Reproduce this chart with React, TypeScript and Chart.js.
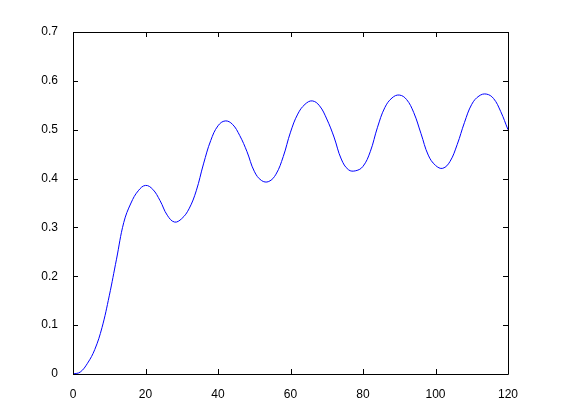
import React, { useEffect, useRef } from "react";
import { Chart, registerables } from "chart.js";

Chart.register(...registerables);

const xValues = [
  0, 2, 4, 6, 8, 10, 12, 14, 16, 18, 20, 22, 24, 26, 28, 30, 32, 34, 36, 38,
  40, 42, 44, 46, 48, 50, 52, 54, 56, 58, 60, 62, 64, 66, 68, 70, 72, 74, 76, 78,
  80, 82, 84, 86, 88, 90, 92, 94, 96, 98, 100, 102, 104, 106, 108, 110, 112, 114, 116, 118, 120,
];

const yValues = [
  0, 0.004, 0.022, 0.05, 0.095, 0.16, 0.235, 0.31, 0.35, 0.375,
  0.386, 0.378, 0.355, 0.325, 0.311, 0.318, 0.338, 0.375, 0.43, 0.478,
  0.508, 0.518, 0.511, 0.488, 0.455, 0.415, 0.396, 0.394, 0.409, 0.445,
  0.495, 0.532, 0.552, 0.559, 0.549, 0.522, 0.485, 0.44, 0.418, 0.416,
  0.425, 0.455, 0.505, 0.545, 0.565, 0.571, 0.562, 0.535, 0.492, 0.448,
  0.427, 0.421, 0.435, 0.47, 0.515, 0.552, 0.569, 0.573, 0.564, 0.537, 0.5,
];

const xTickLabels = ["0", "20", "40", "60", "80", "100", "120"];
const yTickLabels = ["0", "0.1", "0.2", "0.3", "0.4", "0.5", "0.6", "0.7"];

const boxPlugin = {
  id: "matlabBox",
  afterDraw(chart: any) {
    const { ctx, chartArea } = chart;
    const { left, right, top, bottom } = chartArea;
    const xs = chart.scales.x;
    const ys = chart.scales.y;
    const len = 5;
    ctx.save();
    ctx.strokeStyle = "#000";
    ctx.lineWidth = 1;
    ctx.beginPath();
    ctx.rect(Math.round(left) + 0.5, Math.round(top) + 0.5, Math.round(right - left), Math.round(bottom - top));
    xs.ticks.forEach((t: any) => {
      const px = Math.round(xs.getPixelForValue(t.value)) + 0.5;
      ctx.moveTo(px, bottom);
      ctx.lineTo(px, bottom - len);
      ctx.moveTo(px, top);
      ctx.lineTo(px, top + len);
    });
    ys.ticks.forEach((t: any) => {
      const py = Math.round(ys.getPixelForValue(t.value)) + 0.5;
      ctx.moveTo(left, py);
      ctx.lineTo(left + len, py);
      ctx.moveTo(right, py);
      ctx.lineTo(right - len, py);
    });
    ctx.stroke();
    ctx.restore();
  },
};

export default function App() {
  const ref = useRef<HTMLCanvasElement | null>(null);
  useEffect(() => {
    if (!ref.current) return;
    const data = xValues.map((x, i) => ({ x, y: yValues[i] }));
    const font = { family: "'Liberation Sans', Arial, sans-serif", size: 12 };
    const chart = new Chart(ref.current, {
      type: "line",
      data: {
        datasets: [
          {
            data,
            borderColor: "#0000ff",
            borderWidth: 1,
            pointRadius: 0,
            tension: 0.4,
            fill: false,
          },
        ],
      },
      options: {
        animation: false,
        responsive: false,
        events: [],
        layout: { padding: { left: 0, top: 32, right: 53, bottom: 0 } },
        plugins: { legend: { display: false }, tooltip: { enabled: false } },
        scales: {
          x: {
            type: "linear",
            min: 0,
            max: 120,
            grid: { display: false },
            border: { display: false },
            ticks: {
              stepSize: 20,
              color: "#000",
              font,
              padding: 5,
              maxRotation: 0,
              callback: (v: any) => {
                const i = xTickLabels.indexOf(String(v));
                return i >= 0 ? xTickLabels[i] : "";
              },
            },
            afterFit: (s: any) => {
              s.height = 46;
            },
          },
          y: {
            type: "linear",
            min: 0,
            max: 0.7,
            grid: { display: false },
            border: { display: false },
            ticks: {
              stepSize: 0.1,
              color: "#000",
              font,
              padding: 7,
              callback: (v: any) => {
                const i = Math.round(Number(v) * 10);
                return yTickLabels[i] ?? "";
              },
            },
            afterFit: (s: any) => {
              s.width = 73;
            },
          },
        },
      },
      plugins: [boxPlugin],
    });
    return () => chart.destroy();
  }, []);
  return (
    <div style={{ position: "absolute", left: 0, top: 0, width: 561, height: 420, background: "#fff" }}>
      <canvas ref={ref} width={561} height={420} style={{ display: "block" }} />
    </div>
  );
}
